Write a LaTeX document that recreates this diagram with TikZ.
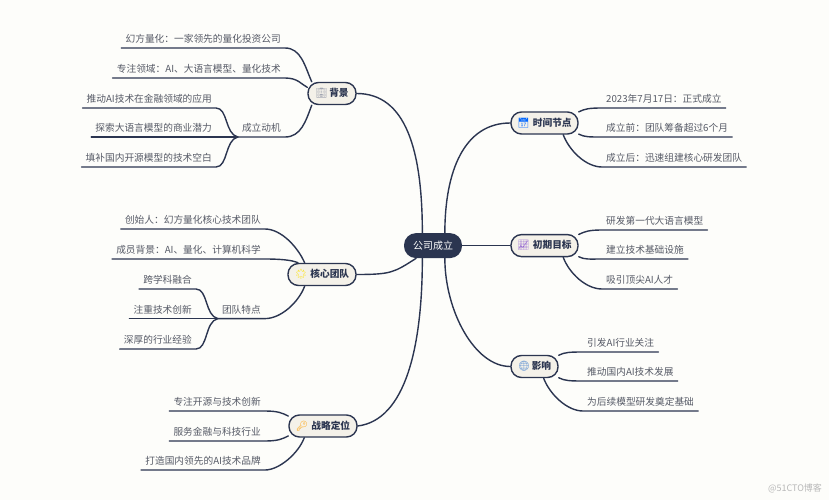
\documentclass[tikz,border=0pt]{standalone}
\usepackage{fontspec}
\setmainfont{Noto Sans CJK SC}
\newfontfamily\emojifont{Noto Emoji}
\definecolor{paper}{HTML}{FDFDFA}
\definecolor{ink}{HTML}{2B3550}
\definecolor{leaftext}{HTML}{565A66}
\definecolor{topicfill}{HTML}{F4F1E9}
\tikzset{
	branch/.style={draw=ink,line width=1.4pt,line cap=round},
	rootnode/.style={fill=ink,text=white,rounded corners=12pt,minimum width=58pt,minimum height=25pt,inner sep=0pt,font=\fontsize{10}{12}\selectfont},
	topic/.style={draw=ink,line width=1.4pt,fill=topicfill,text=ink,rounded corners=10.5pt,minimum height=22pt,inner sep=0pt,font=\fontsize{9.7}{12}\selectfont\bfseries},
	leafl/.style={anchor=south east,text=leaftext,inner xsep=4pt,inner ysep=3.8pt,text height=8.5pt,text depth=1.5pt,font=\fontsize{9.7}{12}\selectfont},
	leafr/.style={leafl,anchor=south west},
}
\begin{document}
\begin{tikzpicture}[x=1pt,y=-1pt]
	\useasboundingbox[fill=paper] (0,0) rectangle (829,500);

	\node[rootnode] (root) at (433,245.6) {公司成立};
	\node[topic,minimum width=48pt] (bg) at (332,93.5) {{\emojifont\color{ink!45}🏢}\,背景};
	\node[topic,minimum width=68pt] (team) at (322,274.5) {{\emojifont\color{yellow!85!orange}🌟}\,\,核心团队};
	\node[topic,minimum width=68pt] (pos) at (323,426) {{\emojifont\color{orange!75!yellow}🔑}\,\,战略定位};
	\node[topic,minimum width=67pt] (time) at (544.5,123) {{\emojifont\color{blue!60!cyan}📅}\,\,时间节点};
	\node[topic,minimum width=67pt] (goal) at (544.5,245.6) {{\emojifont\color{blue!40!violet!60}📈}\,\,初期目标};
	\node[topic,minimum width=47pt] (impact) at (534.5,366.5) {{\emojifont\color{cyan!50!blue!70}🌐}\,影响};

	\draw[branch] (root.130) .. controls +(0,-83) and +(49,0) .. (bg.east);
	\draw[branch] (root.217) .. controls +(-22,14) and +(35,0) .. (team.east);
	\draw[branch] (root.230) .. controls +(0,88) and +(48,-6) .. (pos.east);
	\draw[branch] (root.47) .. controls +(0,-62) and +(-46,0) .. (time.west);
	\draw[branch] (root.east) -- (goal.west);
	\draw[branch] (root.313) .. controls +(0,52) and +(-36,0) .. (impact.west);

	\node[leafl] (bg1) at (285,48) {幻方量化：一家领先的量化投资公司};
	\node[leafl] (bg2) at (285,78) {专注领域：AI、大语言模型、量化技术};
	\node[leafl] (bg3) at (285,137) {成立动机};
	\node[leafl] (bg31) at (216,108) {推动AI技术在金融领域的应用};
	\node[leafl] (bg32) at (216,137) {探索大语言模型的商业潜力};
	\node[leafl] (bg33) at (216,167) {填补国内开源模型的技术空白};
	\draw[branch] (bg.150) .. controls +(-7,-16) and +(16,0) .. (bg1.south east) -- (bg1.south west);
	\draw[branch] (bg.166) .. controls +(-6,-3) and +(13,0) .. (bg2.south east) -- (bg2.south west);
	\draw[branch] (bg.210) .. controls +(-6,16) and +(16,0) .. (bg3.south east) -- (bg3.south west);
	\draw[branch] (bg3.south west) .. controls +(-13,-3) and +(12,0) .. (bg31.south east) -- (bg31.south west);
	\draw[branch] (bg3.south west) -- (bg32.south west);
	\draw[branch] (bg3.south west) .. controls +(-13,3) and +(12,0) .. (bg33.south east) -- (bg33.south west);

	\node[leafl] (team1) at (265,229) {创始人：幻方量化核心技术团队};
	\node[leafl] (team2) at (265,259) {成员背景：AI、量化、计算机科学};
	\node[leafl] (team3) at (265,318.6) {团队特点};
	\node[leafl] (team31) at (196,289) {跨学科融合};
	\node[leafl] (team32) at (196,318.6) {注重技术创新};
	\node[leafl] (team33) at (196,349) {深厚的行业经验};
	\draw[branch] (team.146) .. controls +(-7,-16) and +(16,0) .. (team1.south east) -- (team1.south west);
	\draw[branch] (team.154) .. controls +(-6,-3) and +(13,0) .. (team2.south east) -- (team2.south west);
	\draw[branch] (team.214) .. controls +(-6,16) and +(16,0) .. (team3.south east) -- (team3.south west);
	\draw[branch] (team3.south west) .. controls +(-13,-3) and +(12,0) .. (team31.south east) -- (team31.south west);
	\draw[branch] (team3.south west) -- (team32.south west);
	\draw[branch] (team3.south west) .. controls +(-13,3) and +(12,0) .. (team33.south east) -- (team33.south west);

	\node[leafl] (pos1) at (265,411) {专注开源与技术创新};
	\node[leafl] (pos2) at (265,441) {服务金融与科技行业};
	\node[leafl] (pos3) at (265,470) {打造国内领先的AI技术品牌};
	\draw[branch] (pos.164) .. controls +(-6,-3) and +(13,0) .. (pos1.south east) -- (pos1.south west);
	\draw[branch] (pos.196) .. controls +(-6,3) and +(13,0) .. (pos2.south east) -- (pos2.south west);
	\draw[branch] (pos.212) .. controls +(-6,16) and +(14,0) .. (pos3.south east) -- (pos3.south west);

	\node[leafr] (time1) at (602,108) {2023年7月17日：正式成立};
	\node[leafr] (time2) at (602,137) {成立前：团队筹备超过6个月};
	\node[leafr] (time3) at (602,167) {成立后：迅速组建核心研发团队};
	\draw[branch] (time.18) .. controls +(6,-3) and +(-13,0) .. (time1.south west) -- (time1.south east);
	\draw[branch] (time.342) .. controls +(6,3) and +(-13,0) .. (time2.south west) -- (time2.south east);
	\draw[branch] (time.328) .. controls +(6,16) and +(-16,0) .. (time3.south west) -- (time3.south east);

	\node[leafr] (goal1) at (602,230) {研发第一代大语言模型};
	\node[leafr] (goal2) at (602,259) {建立技术基础设施};
	\node[leafr] (goal3) at (602,289) {吸引顶尖AI人才};
	\draw[branch] (goal.18) .. controls +(6,-3) and +(-13,0) .. (goal1.south west) -- (goal1.south east);
	\draw[branch] (goal.342) .. controls +(6,3) and +(-13,0) .. (goal2.south west) -- (goal2.south east);
	\draw[branch] (goal.328) .. controls +(6,16) and +(-16,0) .. (goal3.south west) -- (goal3.south east);

	\node[leafr] (impact1) at (583,352) {引发AI行业关注};
	\node[leafr] (impact2) at (583,381) {推动国内AI技术发展};
	\node[leafr] (impact3) at (583,411) {为后续模型研发奠定基础};
	\draw[branch] (impact.25) .. controls +(6,-3) and +(-13,0) .. (impact1.south west) -- (impact1.south east);
	\draw[branch] (impact.335) .. controls +(6,3) and +(-13,0) .. (impact2.south west) -- (impact2.south east);
	\draw[branch] (impact.308) .. controls +(6,16) and +(-16,0) .. (impact3.south west) -- (impact3.south east);

	\node[text=black!28,font=\fontsize{9}{11}\selectfont] (mark) at (795,488) {@51CTO博客};
\end{tikzpicture}
\end{document}
